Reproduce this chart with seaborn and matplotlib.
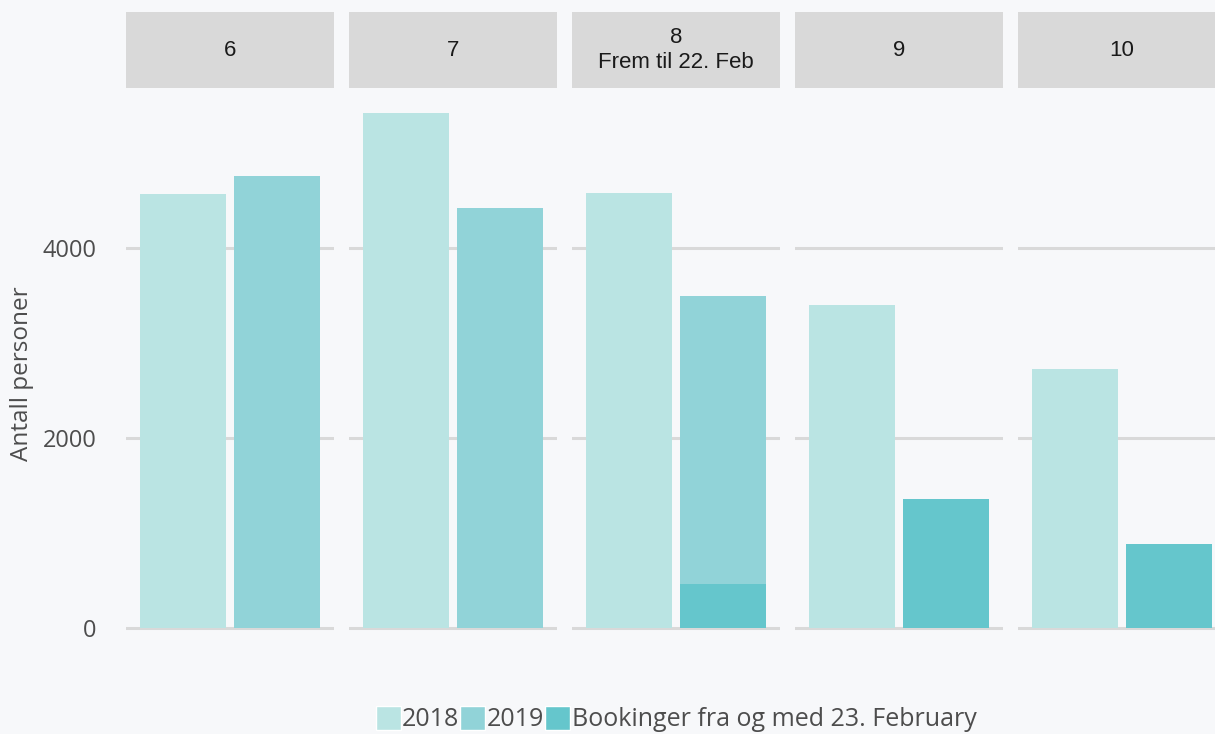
import matplotlib
matplotlib.use('Agg')
import matplotlib.pyplot as plt
from matplotlib.patches import Patch
import seaborn as sns
import pandas as pd
import numpy as np

# Data
months = ['6', '7', '8', '9', '10']
strip_labels = ['6', '7', '8\nFrem til 22. Feb', '9', '10']
v2018 = [4570, 5420, 4580, 3400, 2725]
v2019 = [4760, 4420, 3495, np.nan, np.nan]
bookings = [np.nan, np.nan, 465, 1360, 885]

c2018 = '#BAE4E3'
c2019 = '#91D3D8'
cbook = '#65C6CC'
bg = '#F7F8FA'
text_col = '#4D4D4D'

sns.set_theme(style='white')
plt.rcParams['font.family'] = ['Open Sans', 'DejaVu Sans']

W, H = 1215, 734
fig = plt.figure(figsize=(W / 100, H / 100), dpi=100, facecolor=bg)

px_per_unit = 190 / 2000
ax_top, ax_bot = 90, 650
ylim = (-(ax_bot - 628) / px_per_unit, (628 - ax_top) / px_per_unit)

for i, m in enumerate(months):
    left = 126 + 223 * i
    ax = fig.add_axes([left / W, (H - ax_bot) / H, 208 / W, (ax_bot - ax_top) / H])
    ax.set_facecolor(bg)
    main = pd.DataFrame({'serie': ['2018', '2019'], 'value': [v2018[i], v2019[i]]})
    sns.barplot(data=main, x='serie', y='value', hue='serie', order=['2018', '2019'],
                palette={'2018': c2018, '2019': c2019}, width=0.915, legend=False,
                saturation=1, linewidth=0, ax=ax, zorder=2)
    if not np.isnan(bookings[i]):
        bk = pd.DataFrame({'serie': ['2019'], 'value': [bookings[i]]})
        sns.barplot(data=bk, x='serie', y='value', order=['2018', '2019'],
                    color=cbook, width=0.915, saturation=1, linewidth=0, ax=ax, zorder=3)
    ax.set_xlim(-0.606, 1.606)
    ax.set_ylim(*ylim)
    ax.set_yticks([0, 2000, 4000])
    ax.yaxis.grid(True, color='#D9D9D9', linewidth=2.2)
    ax.set_axisbelow(True)
    ax.set_xticks([])
    ax.set_xlabel('')
    ax.set_ylabel('')
    for s in ax.spines.values():
        s.set_visible(False)
    ax.tick_params(axis='y', length=0, pad=21)
    if i == 0:
        ax.set_yticklabels(['0', '2000', '4000'], fontsize=17, color=text_col)
    else:
        ax.set_yticklabels([])

    # facet strip
    sax = fig.add_axes([left / W, (H - 88) / H, 208 / W, 76 / H])
    sax.set_facecolor('#D9D9D9')
    sax.set_xticks([])
    sax.set_yticks([])
    for s in sax.spines.values():
        s.set_visible(False)
    sax.text(0.5, 0.5, strip_labels[i], ha='center', va='center', fontsize=16,
             color='#1A1A1A', family=['Liberation Sans', 'DejaVu Sans'],
             linespacing=1.2, transform=sax.transAxes)

fig.text(22 / W, 1 - 374 / H, 'Antall personer', rotation=90, ha='center', va='center',
         fontsize=17.5, color=text_col)

handles = [Patch(facecolor=c2018, label='2018'),
           Patch(facecolor=c2019, label='2019'),
           Patch(facecolor=cbook, label='Bookinger fra og med 23. February')]
leg = fig.legend(handles=handles, loc='center', bbox_to_anchor=(676 / W, 1 - 719 / H),
                 ncol=3, frameon=False, fontsize=18, handlelength=1.0, handleheight=1.1,
                 handletextpad=0.05, columnspacing=0.05, borderaxespad=0, borderpad=0)
for t in leg.get_texts():
    t.set_color(text_col)

fig.savefig('out.png', dpi=100, facecolor=bg)
